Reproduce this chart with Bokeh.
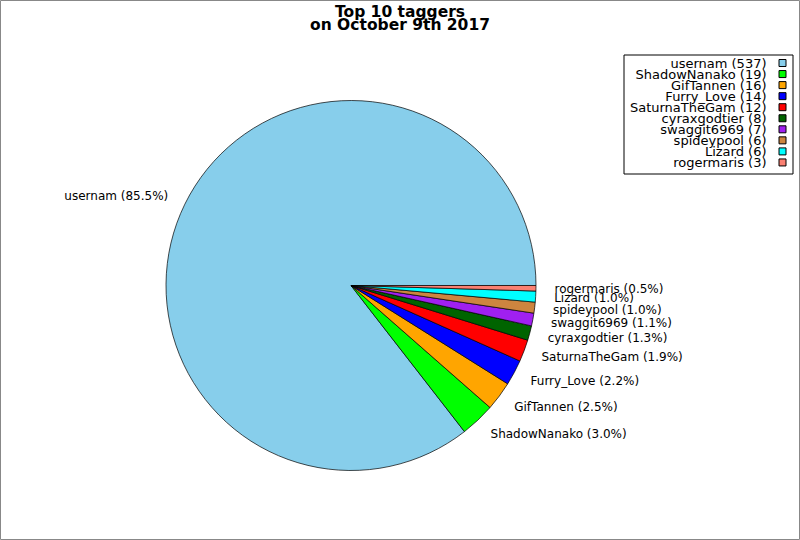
import math
from bokeh.plotting import figure
from bokeh.models import Range1d, ColumnDataSource
from bokeh.core.properties import value
from bokeh.embed import file_html
from bokeh.resources import INLINE

# ---- data ----
names = ["usernam", "ShadowNanako", "GifTannen", "Furry_Love", "SaturnaTheGam",
         "cyraxgodtier", "swaggit6969", "spideypool", "Lizard", "rogermaris"]
counts = [537, 19, 16, 14, 12, 8, 7, 6, 6, 3]
colors = ["#87CEEB", "#00FF00", "#FFA500", "#0000FF", "#FF0000",
          "#006400", "#A020F0", "#CD853F", "#00FFFF", "#FA8072"]
title_lines = ["Top 10 taggers", "on October 9th 2017"]

# ---- layout (image pixel coords; data y = 540 - image y) ----
W, H = 800, 540
def py(y):
    return 540 - y

cx, cy, R = 350.5, py(285), 185.0
FONT = value("DejaVu Sans")

total = sum(counts)
starts, ends, mids = [], [], []
acc = 0.0
for c in counts:
    a0 = 2 * math.pi * acc / total
    acc += c
    a1 = 2 * math.pi * acc / total
    starts.append(a0)
    ends.append(a1)
    mids.append((a0 + a1) / 2)

pie_src = ColumnDataSource(dict(start=starts, end=ends, color=colors))

lx, ly, lalign, ltext = [], [], [], []
for n, c, m in zip(names, counts, mids):
    lx.append(cx + 1.1 * R * math.cos(m))
    ly.append(cy + 1.1 * R * math.sin(m))
    lalign.append("left" if math.cos(m) >= 0 else "right")
    ltext.append(f"{n} ({100.0 * c / total:.1f}%)")
lab_src = ColumnDataSource(dict(x=lx, y=ly, align=lalign, text=ltext))

p = figure(width=W, height=H, output_backend="svg", toolbar_location=None,
           x_range=Range1d(0, 800), y_range=Range1d(0, 540),
           min_border=0, tools="")
p.axis.visible = False
p.grid.visible = False
p.outline_line_color = "#888888"
p.outline_line_width = 1
p.background_fill_color = "white"
p.border_fill_color = "white"

p.wedge(x=cx, y=cy, radius=R, start_angle="start", end_angle="end",
        direction="anticlock", fill_color="color", line_color="black",
        line_width=0.7, source=pie_src)

p.text(x="x", y="y", text="text", text_align="align", text_baseline="middle",
       text_font=FONT, text_font_size="12px", text_color="black", source=lab_src)

# title
p.text(x=[399.5, 399.5], y=[py(11), py(24)], text=title_lines,
       text_align="center", text_baseline="middle", text_font=FONT,
       text_font_size="15.5px", text_font_style="bold", text_color="black")

# legend
p.quad(left=[623.5], right=[792.5], top=[py(54.5)], bottom=[py(173.5)],
       fill_color="white", line_color="black", line_width=1)
row_y = [py(62.5 + 11.05 * i) for i in range(len(names))]
leg_text = [f"{n} ({c})" for n, c in zip(names, counts)]
leg_src = ColumnDataSource(dict(y=row_y, text=leg_text, color=colors))
p.text(x=766, y="y", text="text", text_align="right", text_baseline="middle",
       text_font=FONT, text_font_size="13px", text_color="black", source=leg_src)
p.rect(x=782, y="y", width=7, height=7, fill_color="color", line_color="black",
       line_width=1, source=leg_src)

open("out.html", "w").write(file_html(p, INLINE))
